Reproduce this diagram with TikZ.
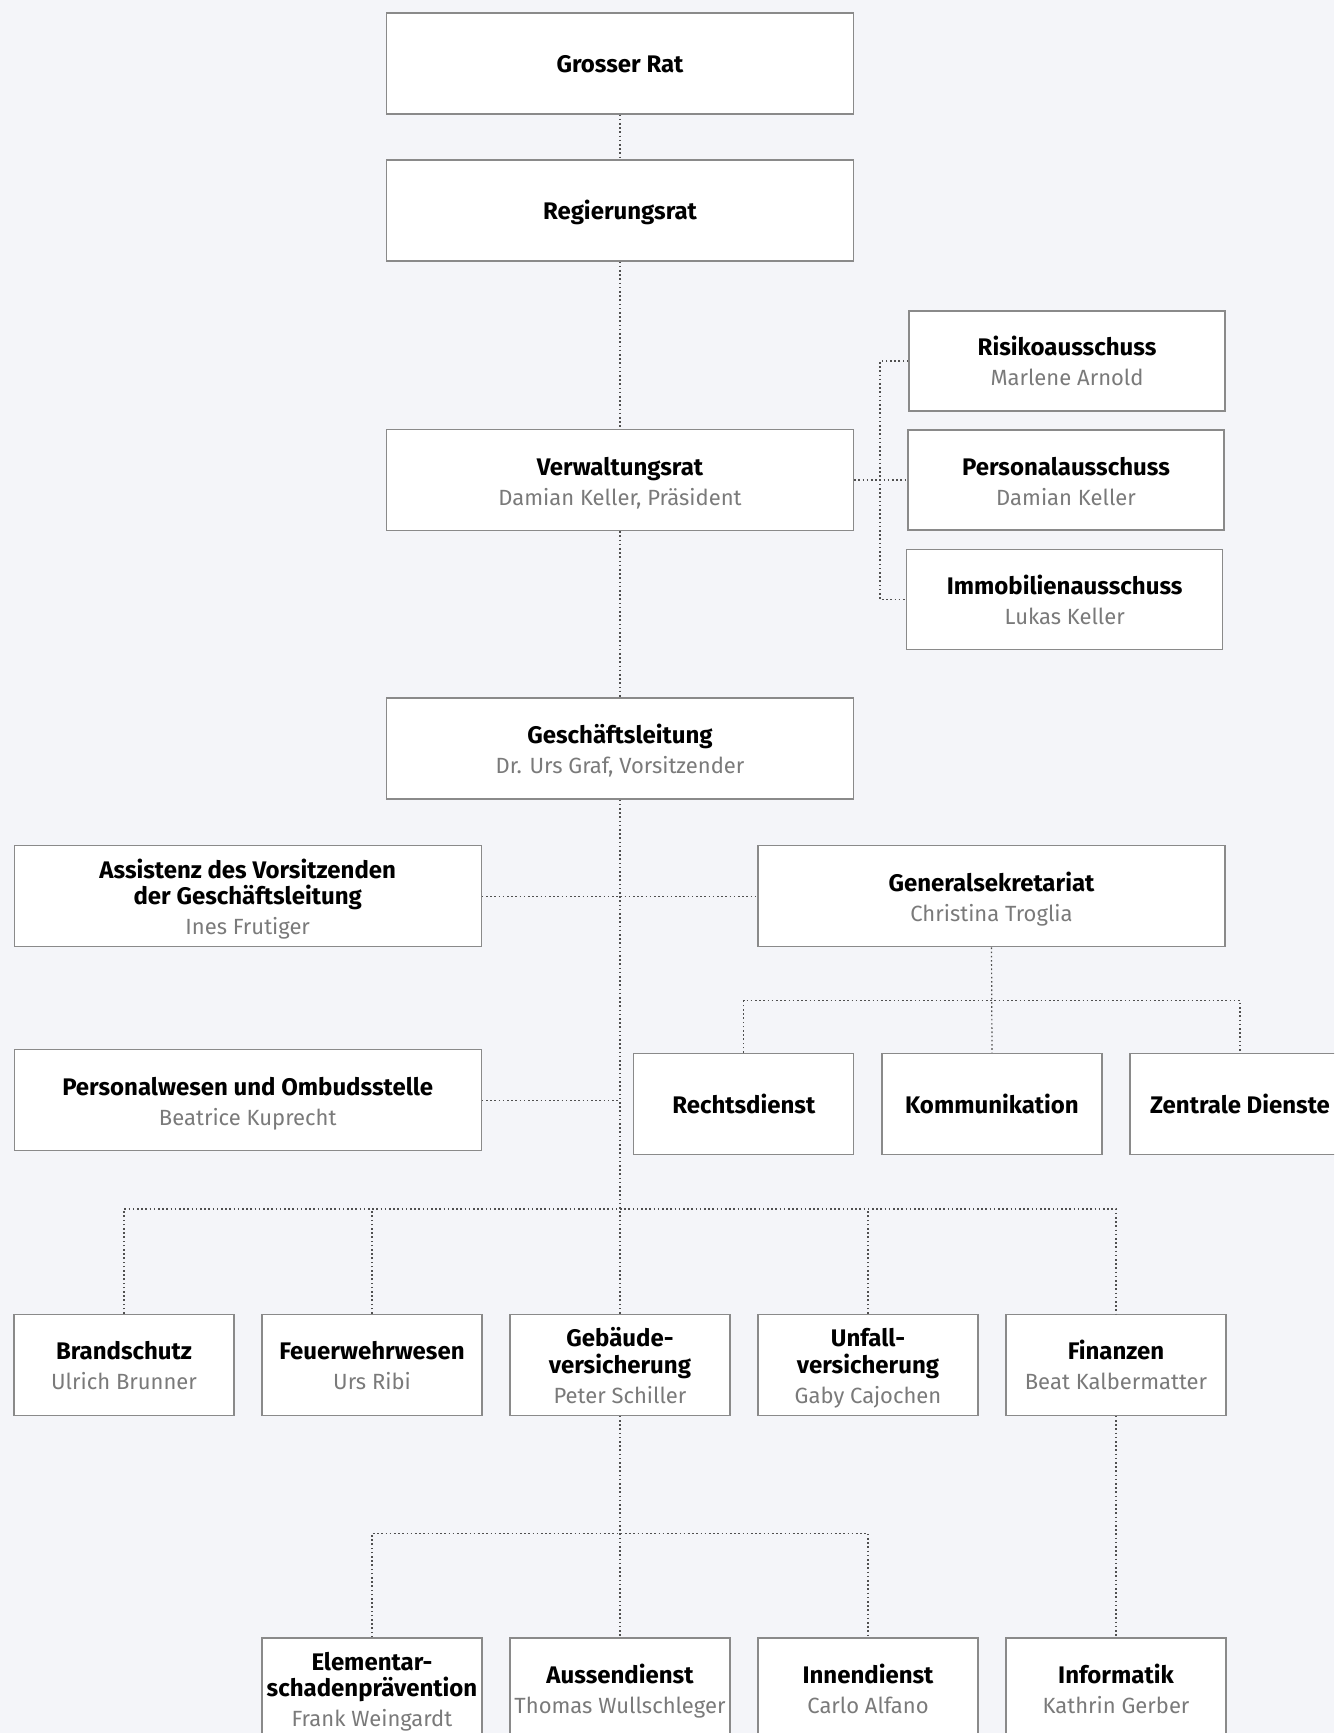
\documentclass[tikz,border=0pt]{standalone}
\usepackage{fontspec}
\setmainfont{Fira Sans}
\definecolor{bgcol}{HTML}{F4F5F9}
\definecolor{boxgray}{HTML}{8A8A8A}
\definecolor{linegray}{HTML}{505050}
\definecolor{namegray}{HTML}{7A7A7A}
\newcommand\orgtop{\rule{0pt}{12.5pt}}
\newcommand\orgsingle{\rule[-2.7pt]{0pt}{14.8pt}}
\newcommand\orgperson[1]{\\[1.7pt]{\mdseries\fontsize{11}{13.3}\selectfont\color{namegray}#1\rule[-2.5pt]{0pt}{0pt}}}
\tikzset{
  box/.style={draw=boxgray, fill=white, line width=0.6pt, inner sep=0pt, align=center,
    text=black, font={\fontsize{12}{13.3}\selectfont\bfseries}},
  widebox/.style={box, minimum width=233.5pt, minimum height=50.5pt},
  commbox/.style={box, minimum width=158pt, minimum height=50pt},
  smallbox/.style={box, minimum width=110pt, minimum height=50.5pt},
  conn/.style={draw=linegray, line width=0.6pt, dash pattern=on 0.8pt off 1.3pt}
}
\begin{document}
\begin{tikzpicture}[x=0.5pt,y=-0.5pt]
\clip (0,0) rectangle (1334,1733);
\fill[bgcol] (0,0) rectangle (1334,1733);

% nodes
\node[widebox] (gr) at (620,63.5) {\orgsingle Grosser Rat};
\node[widebox] (rr) at (620,210.5) {\orgsingle Regierungsrat};
\node[widebox] (vr) at (620,480) {\orgtop Verwaltungsrat\orgperson{Damian Keller, Präsident}};
\node[commbox] (ra) at (1067,361) {\orgtop Risikoausschuss\orgperson{Marlene Arnold}};
\node[commbox] (pa) at (1066,480) {\orgtop Personalausschuss\orgperson{Damian Keller}};
\node[commbox] (ia) at (1064.7,599.5) {\orgtop Immobilienausschuss\orgperson{Lukas Keller}};
\node[widebox] (gl) at (620,748.5) {\orgtop Geschäftsleitung\orgperson{Dr. Urs Graf, Vorsitzender}};
\node[widebox] (as) at (247.7,896.3) {\orgtop Assistenz des Vorsitzenden\\der Geschäftsleitung\orgperson{Ines Frutiger}};
\node[widebox] (gs) at (991.5,896.3) {\orgtop Generalsekretariat\orgperson{Christina Troglia}};
\node[widebox] (pw) at (247.7,1100.3) {\orgtop Personalwesen und Ombudsstelle\orgperson{Beatrice Kuprecht}};
\node[smallbox] (rd) at (743.8,1103.7) {\orgsingle Rechtsdienst};
\node[smallbox] (ko) at (992,1103.7) {\orgsingle Kommunikation};
\node[smallbox] (zd) at (1240,1103.7) {\orgsingle Zentrale Dienste};

\node[smallbox] (bs) at (124,1364.7) {\orgtop Brandschutz\orgperson{Ulrich Brunner}};
\node[smallbox] (fw) at (372,1364.7) {\orgtop Feuerwehrwesen\orgperson{Urs Ribi}};
\node[smallbox] (gv) at (620,1364.7) {\orgtop Gebäude-\\versicherung\orgperson{Peter Schiller}};
\node[smallbox] (uv) at (868,1364.7) {\orgtop Unfall-\\versicherung\orgperson{Gaby Cajochen}};
\node[smallbox] (fi) at (1116,1364.7) {\orgtop Finanzen\orgperson{Beat Kalbermatter}};

\node[smallbox] (ep) at (372,1688.5) {\orgtop Elementar-\\schadenprävention\orgperson{Frank Weingardt}};
\node[smallbox] (ad) at (620,1688.5) {\orgtop Aussendienst\orgperson{Thomas Wullschleger}};
\node[smallbox] (id) at (868,1688.5) {\orgtop Innendienst\orgperson{Carlo Alfano}};
\node[smallbox] (inf) at (1116,1688.5) {\orgtop Informatik\orgperson{Kathrin Gerber}};

% connectors
\coordinate (cx) at (880,480);
\coordinate (gsb) at (991.5,1000.7);
\coordinate (r3) at (620,1209);
\coordinate (r4) at (620,1533.3);

\draw[conn] (gr) -- (rr);
\draw[conn] (rr) -- (vr);
\draw[conn] (vr.east) -- (pa.west);
\draw[conn] (ra.west) -- (ra.west -| cx) -- (ia.west -| cx) -- (ia.west);
\draw[conn] (vr) -- (gl);
\draw[conn] (gl.south) -- (gv.north);
\draw[conn] (as.east) -- (gs.west);
\draw[conn] (pw.east) -- (pw.east -| gl.south);
\draw[conn] (gs.south) -- (ko.north);
\draw[conn] (rd.north) -- (rd.north |- gsb) -- (zd.north |- gsb) -- (zd.north);
\draw[conn] (bs.north) -- (bs.north |- r3) -- (fi.north |- r3) -- (fi.north);
\draw[conn] (fw.north) -- (fw.north |- r3);
\draw[conn] (uv.north) -- (uv.north |- r3);
\draw[conn] (gv.south) -- (ad.north);
\draw[conn] (ep.north) -- (ep.north |- r4) -- (id.north |- r4) -- (id.north);
\draw[conn] (fi.south) -- (inf.north);
\end{tikzpicture}
\end{document}
